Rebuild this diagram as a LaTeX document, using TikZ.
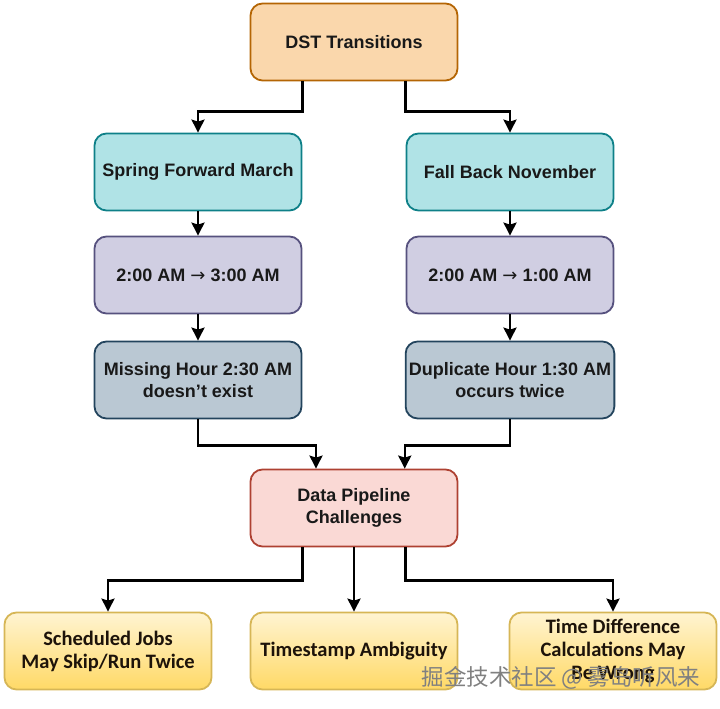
\documentclass[tikz,border=0pt]{standalone}
\usepackage{fontspec}
\setmainfont{Liberation Sans}
\newfontfamily\calib{Carlito}
\newfontfamily\symb{DejaVu Sans}
\newfontfamily\cjk{Noto Sans CJK SC}
\usetikzlibrary{arrows.meta}

\definecolor{orangefill}{HTML}{FAD7AC}
\definecolor{orangeline}{HTML}{B46504}
\definecolor{tealfill}{HTML}{B0E3E6}
\definecolor{tealline}{HTML}{0E8088}
\definecolor{purplefill}{HTML}{D0CEE2}
\definecolor{purpleline}{HTML}{56517E}
\definecolor{slatefill}{HTML}{BAC8D3}
\definecolor{slateline}{HTML}{23445D}
\definecolor{redfill}{HTML}{FAD9D5}
\definecolor{redline}{HTML}{AE4132}
\definecolor{yellowtop}{HTML}{FFF4D2}
\definecolor{yellowbot}{HTML}{FFD966}
\definecolor{yellowline}{HTML}{D6B656}

\tikzset{
  box/.style={draw, rounded corners=12pt, line width=1.8pt,
    minimum width=207pt, minimum height=77pt, align=center,
    font=\fontsize{18}{22}\selectfont\bfseries, text=black!90},
  orangebox/.style={box, fill=orangefill, draw=orangeline},
  tealbox/.style={box, fill=tealfill, draw=tealline},
  purplebox/.style={box, fill=purplefill, draw=purpleline},
  slatebox/.style={box, fill=slatefill, draw=slateline},
  redbox/.style={box, fill=redfill, draw=redline},
  yellowbox/.style={box, top color=yellowtop, bottom color=yellowbot,
    draw=yellowline, font=\calib\fontsize{20.5}{23}\selectfont\bfseries,
    text=black!85!brown},
  arr/.style={line width=2.4pt, -{Stealth[length=13pt,width=13pt,inset=2pt]}}
}
\newcommand{\toarrow}{{\symb\mdseries →}}

\begin{document}
\begin{tikzpicture}[x=1pt,y=1pt]
\useasboundingbox (0,0) rectangle (720,709);

% transitions
\node[orangebox] (dst) at (354,667) {DST Transitions};
\node[tealbox] (spring) at (198,537) {Spring Forward March};
\node[tealbox] (fall) at (510,537) {Fall Back November};
\node[purplebox] (ahead) at (198,434) {2:00 AM \toarrow{} 3:00 AM};
\node[purplebox] (back) at (510,434) {2:00 AM \toarrow{} 1:00 AM};
\node[slatebox] (missing) at (198,329) {Missing Hour 2:30 AM\\doesn't exist};
\node[slatebox] (duplicate) at (510,329) {Duplicate Hour 1:30 AM\\occurs twice};

% pipeline
\node[redbox] (pipeline) at (354,201) {Data Pipeline\\Challenges};
\node[yellowbox] (jobs) at (108,58) {Scheduled Jobs\\May Skip/Run Twice};
\node[yellowbox] (stamp) at (354,58) {Timestamp Ambiguity};
\node[yellowbox] (diff) at (613,58) {Time Difference\\Calculations May\\Be Wrong};

% connectors
\draw[arr] (dst.south -| spring.east) -- ++(0,-30) -| (spring.north);
\draw[arr] (dst.south -| fall.west) -- ++(0,-30) -| (fall.north);
\draw[arr] (spring) -- (ahead);
\draw[arr] (fall) -- (back);
\draw[arr] (ahead) -- (missing);
\draw[arr] (back) -- (duplicate);
\draw[arr] (missing.south) -- ++(0,-26) -| ([xshift=-38pt]pipeline.north);
\draw[arr] (duplicate.south) -- ++(0,-26) -| (pipeline.north -| duplicate.west);
\draw[arr] (pipeline.south -| spring.east) -- ++(0,-33) -| (jobs.north);
\draw[arr] (pipeline) -- (stamp);
\draw[arr] (pipeline.south -| fall.west) -- ++(0,-33) -| (diff.north);

% watermark
\node[text=black!50, font=\cjk\fontsize{22.5}{26}\selectfont] (mark) at (561,31)
  {掘金技术社区 @ 雾岛听风来};
\end{tikzpicture}
\end{document}
